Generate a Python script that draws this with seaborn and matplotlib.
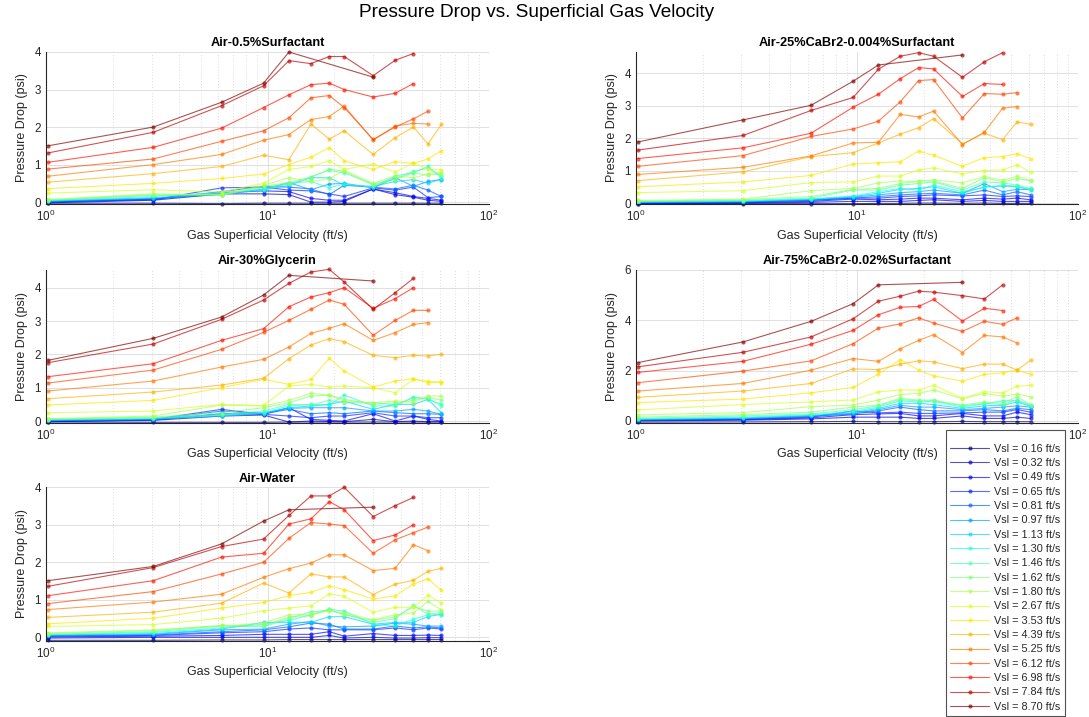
import numpy as np
import pandas as pd
import matplotlib
matplotlib.use("Agg")
import matplotlib.pyplot as plt
import seaborn as sns
from matplotlib.lines import Line2D
from matplotlib.ticker import LogLocator, NullFormatter

nan = np.nan

# ---------------- data ----------------
vsg = [1.02, 3.05, 6.2, 9.6, 12.5, 15.7, 19.0, 22.2, 30.0, 37.7, 45.6, 53.0, 61.0]
vsl = [0.16, 0.32, 0.49, 0.65, 0.81, 0.97, 1.13, 1.30, 1.46, 1.62, 1.80,
       2.67, 3.53, 4.39, 5.25, 6.12, 6.98, 7.84, 8.70]
titles = ["Air-0.5%Surfactant", "Air-25%CaBr2-0.004%Surfactant", "Air-30%Glycerin",
          "Air-75%CaBr2-0.02%Surfactant", "Air-Water"]

# each list: one row per Vsl (0.16 ... 8.70), 13 gas-velocity points
dp_surf05 = [
    [-0.03, -0.03, -0.04, -0.03, -0.03, -0.03, -0.03, -0.03, -0.03, -0.03, -0.03, -0.03, -0.03],
    [-0.02, 0.05, 0.22, 0.22, 0.20, 0.00, 0.00, 0.02, 0.35, 0.20, 0.13, 0.05, 0.02],
    [0.00, 0.08, 0.25, 0.30, 0.28, 0.10, 0.05, 0.05, 0.35, 0.25, 0.15, 0.10, 0.05],
    [0.01, 0.06, 0.38, 0.40, 0.32, 0.30, 0.22, 0.15, 0.38, 0.32, 0.40, 0.12, 0.15],
    [0.02, 0.08, 0.28, 0.42, 0.40, 0.35, 0.20, 0.45, 0.40, 0.35, 0.45, 0.32, 0.15],
    [0.02, 0.10, 0.20, 0.35, 0.52, 0.33, 0.48, 0.50, 0.38, 0.65, 0.42, 0.55, 0.60],
    [0.03, 0.12, 0.22, 0.32, 0.45, 0.65, 0.65, 0.45, 0.42, 0.55, 0.60, 0.50, 0.62],
    [0.04, 0.15, 0.25, 0.33, 0.50, 0.55, 0.38, 0.48, 0.40, 0.70, 0.78, 0.95, 0.65],
    [0.05, 0.18, 0.22, 0.38, 0.48, 0.68, 0.85, 0.78, 0.48, 0.62, 0.82, 0.90, 0.70],
    [0.06, 0.20, 0.18, 0.42, 0.52, 0.65, 0.88, 0.82, 0.45, 0.60, 0.78, 0.72, 0.75],
    [0.07, 0.22, 0.20, 0.45, 0.65, 0.55, 0.62, 0.85, 0.50, 0.70, 0.65, 0.75, 0.80],
    [0.24, 0.33, 0.27, 0.50, 0.87, 0.95, 1.10, 0.87, 1.02, 0.80, 1.05, 0.88, 0.86],
    [0.36, 0.50, 0.63, 0.75, 1.00, 1.20, 1.45, 1.10, 0.87, 1.08, 1.03, 1.15, 1.37],
    [0.53, 0.76, 0.95, 1.25, 1.13, 2.08, 1.68, 1.90, 1.27, 1.72, 2.00, 1.55, 2.07],
    [0.69, 1.00, 1.27, 1.65, 1.80, 2.20, 2.28, 2.56, 1.65, 2.03, 2.10, 2.08, nan],
    [0.88, 1.15, 1.62, 1.90, 2.25, 2.78, 2.84, 2.52, 1.67, 2.00, 2.22, 2.42, nan],
    [1.06, 1.46, 1.97, 2.52, 2.86, 3.13, 3.17, 3.00, 2.80, 2.90, 3.16, nan, nan],
    [1.31, 1.86, 2.57, 3.10, 3.77, 3.69, 3.88, 3.88, 3.37, 3.78, 3.96, nan, nan],
    [1.50, 2.00, 2.66, 3.17, 4.00, nan, nan, nan, 3.33, nan, nan, nan, nan],
]
dp_cabr25 = [
    [-0.03, -0.02, -0.02, -0.02, -0.01, -0.01, 0.00, 0.00, -0.01, 0.00, -0.01, -0.01, -0.01],
    [-0.02, 0.00, 0.02, 0.05, 0.05, 0.05, 0.08, 0.10, 0.05, 0.08, 0.05, 0.05, 0.05],
    [-0.01, 0.01, 0.05, 0.12, 0.10, 0.12, 0.15, 0.15, 0.10, 0.15, 0.12, 0.15, 0.10],
    [0.00, 0.02, 0.08, 0.15, 0.15, 0.20, 0.22, 0.25, 0.22, 0.25, 0.20, 0.22, 0.20],
    [0.01, 0.03, 0.10, 0.15, 0.20, 0.25, 0.28, 0.30, 0.25, 0.40, 0.25, 0.35, 0.25],
    [0.02, 0.04, 0.10, 0.18, 0.25, 0.32, 0.35, 0.40, 0.30, 0.60, 0.35, 0.42, 0.42],
    [0.03, 0.05, 0.12, 0.20, 0.30, 0.42, 0.45, 0.50, 0.30, 0.50, 0.52, 0.50, 0.40],
    [0.04, 0.07, 0.12, 0.22, 0.35, 0.45, 0.40, 0.55, 0.35, 0.48, 0.55, 0.52, 0.42],
    [0.05, 0.08, 0.15, 0.40, 0.40, 0.55, 0.60, 0.65, 0.40, 0.65, 0.62, 0.55, 0.45],
    [0.06, 0.10, 0.20, 0.42, 0.45, 0.60, 0.68, 0.68, 0.45, 0.78, 0.65, 0.75, 0.68],
    [0.08, 0.12, 0.38, 0.45, 0.62, 0.68, 0.65, 0.72, 0.62, 0.82, 0.70, 0.82, 0.70],
    [0.32, 0.38, 0.63, 0.65, 0.83, 0.83, 1.02, 1.08, 0.90, 1.00, 1.02, 1.18, 0.95],
    [0.50, 0.65, 0.85, 1.20, 1.24, 1.27, 1.60, 1.47, 1.13, 1.40, 1.43, 1.52, 1.36],
    [0.69, 0.96, 1.43, 1.55, 1.85, 2.12, 2.32, 2.60, 1.82, 2.15, 1.95, 2.50, 2.42],
    [0.88, 1.10, 1.45, 1.85, 1.87, 2.73, 2.65, 2.83, 1.80, 2.18, 2.92, 2.97, nan],
    [1.13, 1.46, 2.05, 2.28, 2.52, 3.12, 3.77, 3.80, 2.62, 3.37, 3.35, 3.40, nan],
    [1.37, 1.70, 2.15, 2.95, 3.35, 3.83, 4.17, 4.13, 3.28, 3.68, 3.65, nan, nan],
    [1.63, 2.08, 2.85, 3.25, 4.12, 4.52, 4.63, 4.52, 3.87, 4.35, 4.63, nan, nan],
    [1.88, 2.56, 3.01, 3.75, 4.25, nan, nan, nan, 4.56, nan, nan, nan, nan],
]
dp_glyc30 = [
    [-0.03, -0.04, -0.04, -0.04, -0.03, -0.03, -0.03, -0.03, -0.03, -0.03, -0.03, -0.03, -0.03],
    [-0.02, 0.02, 0.15, 0.18, -0.03, 0.00, -0.01, -0.02, 0.05, -0.02, 0.00, -0.02, -0.02],
    [-0.01, 0.03, 0.22, 0.20, 0.40, 0.05, 0.02, 0.00, 0.22, 0.00, 0.15, 0.05, 0.00],
    [0.00, 0.05, 0.35, 0.20, 0.15, 0.10, 0.15, 0.15, 0.25, 0.15, 0.15, 0.10, 0.10],
    [0.01, 0.04, 0.30, 0.22, 0.35, 0.22, 0.25, 0.22, 0.30, 0.25, 0.22, 0.22, 0.20],
    [0.02, 0.05, 0.20, 0.25, 0.38, 0.40, 0.40, 0.40, 0.30, 0.30, 0.35, 0.30, 0.20],
    [0.03, 0.06, 0.15, 0.22, 0.40, 0.45, 0.50, 0.60, 0.35, 0.50, 0.50, 0.65, 0.25],
    [0.04, 0.08, 0.18, 0.25, 0.45, 0.50, 0.48, 0.78, 0.45, 0.45, 0.72, 0.65, 0.50],
    [0.05, 0.10, 0.20, 0.30, 0.50, 0.48, 0.62, 0.55, 0.55, 0.48, 0.70, 0.68, 0.45],
    [0.06, 0.12, 0.25, 0.40, 0.55, 0.75, 0.78, 0.65, 0.50, 0.55, 0.62, 0.72, 0.62],
    [0.07, 0.15, 0.48, 0.45, 0.62, 0.83, 0.78, 0.60, 0.55, 0.60, 0.55, 0.75, 0.75],
    [0.25, 0.30, 0.50, 0.47, 1.05, 1.10, 1.02, 1.05, 1.00, 0.85, 1.25, 1.20, 1.15],
    [0.48, 0.62, 1.00, 1.25, 1.10, 1.25, 1.88, 1.50, 1.02, 1.20, 1.27, 1.15, 1.18],
    [0.67, 0.87, 1.08, 1.28, 1.87, 2.28, 2.47, 2.38, 1.97, 1.90, 1.97, 1.95, 2.00],
    [0.90, 1.20, 1.62, 1.85, 2.22, 2.63, 2.78, 2.92, 2.42, 2.65, 2.90, 2.95, nan],
    [1.14, 1.53, 2.15, 2.66, 3.02, 3.35, 3.63, 3.50, 2.57, 3.02, 3.32, 3.32, nan],
    [1.33, 1.72, 2.42, 2.77, 3.43, 3.72, 3.85, 4.00, 3.38, 3.67, 4.00, nan, nan],
    [1.75, 2.31, 3.05, 3.63, 4.13, 4.47, 4.55, 4.17, 3.35, 3.85, 4.28, nan, nan],
    [1.82, 2.48, 3.12, 3.78, 4.37, nan, nan, nan, 4.20, nan, nan, nan, nan],
]
dp_cabr75 = [
    [-0.05, -0.04, -0.03, -0.02, -0.03, -0.03, -0.03, -0.03, -0.02, -0.03, -0.03, -0.03, -0.03],
    [0.00, 0.03, 0.08, 0.15, 0.15, 0.15, 0.10, 0.10, 0.20, 0.10, 0.10, 0.15, 0.10],
    [0.02, 0.05, 0.12, 0.25, 0.28, 0.30, 0.20, 0.20, 0.30, 0.20, 0.20, 0.35, 0.25],
    [0.03, 0.06, 0.15, 0.40, 0.32, 0.35, 0.30, 0.30, 0.32, 0.35, 0.35, 0.45, 0.35],
    [0.04, 0.08, 0.18, 0.28, 0.40, 0.55, 0.45, 0.40, 0.40, 0.45, 0.40, 0.50, 0.45],
    [0.05, 0.10, 0.20, 0.30, 0.45, 0.62, 0.55, 0.55, 0.45, 0.50, 0.55, 0.60, 0.55],
    [0.06, 0.12, 0.22, 0.33, 0.50, 0.70, 0.70, 0.65, 0.50, 0.60, 0.62, 0.75, 0.58],
    [0.08, 0.15, 0.25, 0.38, 0.55, 0.80, 0.75, 0.78, 0.55, 0.68, 0.80, 0.80, 0.60],
    [0.10, 0.20, 0.28, 0.45, 0.60, 0.85, 0.80, 0.80, 0.60, 0.70, 0.65, 0.85, 0.63],
    [0.15, 0.25, 0.35, 0.55, 0.63, 0.90, 0.83, 0.83, 0.63, 0.75, 0.70, 0.96, 0.65],
    [0.24, 0.33, 0.57, 0.63, 0.83, 1.05, 1.09, 1.23, 0.88, 1.09, 0.98, 1.07, 0.96],
    [0.44, 0.65, 0.76, 0.83, 1.16, 1.23, 1.23, 1.42, 0.90, 1.16, 1.12, 1.38, 1.42],
    [0.73, 0.87, 1.12, 1.33, 1.86, 2.44, 2.02, 1.79, 1.58, 1.85, 1.91, 2.02, 1.85],
    [0.94, 1.19, 1.49, 2.07, 2.04, 2.26, 2.39, 2.35, 2.08, 2.26, 2.26, 2.02, 2.41],
    [1.19, 1.49, 2.02, 2.48, 2.37, 2.87, 3.20, 3.43, 2.72, 3.40, 3.34, 3.10, nan],
    [1.52, 1.98, 2.39, 3.07, 3.69, 3.86, 4.10, 3.89, 3.56, 3.96, 3.84, 4.10, nan],
    [1.93, 2.37, 3.05, 3.60, 4.22, 4.52, 4.55, 4.83, 3.97, 4.48, 4.39, nan, nan],
    [2.15, 2.73, 3.34, 4.06, 4.76, 4.96, 5.16, 5.12, 4.98, 4.85, 5.41, nan, nan],
    [2.32, 3.14, 3.96, 4.66, 5.41, nan, nan, nan, 5.51, nan, nan, nan, nan],
]
dp_water = [
    [-0.08, -0.08, -0.07, -0.07, -0.06, -0.06, -0.06, -0.06, -0.06, -0.06, -0.06, -0.06, -0.06],
    [-0.02, 0.00, 0.00, 0.00, 0.00, 0.00, 0.05, -0.02, 0.00, -0.02, -0.02, -0.01, -0.01],
    [0.01, 0.03, 0.05, 0.08, 0.08, 0.08, 0.15, 0.03, 0.10, 0.05, 0.05, 0.06, 0.05],
    [0.03, 0.05, 0.12, 0.15, 0.22, 0.25, 0.20, 0.20, 0.20, 0.25, 0.20, 0.25, 0.22],
    [0.04, 0.06, 0.15, 0.20, 0.28, 0.38, 0.35, 0.22, 0.22, 0.30, 0.25, 0.28, 0.25],
    [0.05, 0.08, 0.20, 0.22, 0.35, 0.42, 0.30, 0.28, 0.30, 0.38, 0.35, 0.30, 0.30],
    [0.06, 0.10, 0.22, 0.40, 0.40, 0.40, 0.55, 0.55, 0.35, 0.40, 0.40, 0.55, 0.62],
    [0.07, 0.13, 0.25, 0.35, 0.45, 0.60, 0.75, 0.70, 0.35, 0.30, 0.48, 0.60, 0.60],
    [0.08, 0.15, 0.30, 0.28, 0.50, 0.68, 0.72, 0.62, 0.40, 0.50, 0.85, 0.62, 0.65],
    [0.10, 0.18, 0.32, 0.30, 0.55, 0.58, 0.75, 0.60, 0.45, 0.55, 0.82, 0.70, 0.70],
    [0.12, 0.20, 0.30, 0.38, 0.60, 0.62, 0.70, 0.65, 0.47, 0.60, 0.65, 0.96, 0.73],
    [0.29, 0.34, 0.51, 0.71, 0.78, 0.84, 1.16, 1.09, 0.67, 0.80, 0.80, 1.12, 0.91],
    [0.36, 0.51, 0.78, 0.93, 1.11, 1.20, 1.37, 1.27, 1.02, 1.11, 1.42, 1.56, 1.25],
    [0.53, 0.67, 0.91, 1.45, 1.18, 1.69, 1.61, 1.61, 1.14, 1.42, 1.52, 1.76, 1.84],
    [0.74, 0.94, 1.15, 1.60, 1.83, 1.98, 2.20, 2.20, 1.78, 1.84, 2.47, 2.31, nan],
    [0.90, 1.22, 1.69, 2.00, 2.64, 3.06, 3.02, 2.98, 2.24, 2.60, 2.79, 2.94, nan],
    [1.11, 1.51, 2.14, 2.24, 3.02, 3.16, 3.62, 3.40, 2.58, 2.73, 3.00, nan, nan],
    [1.36, 1.86, 2.42, 2.62, 3.25, 3.77, 3.77, 4.00, 3.22, 3.51, 3.73, nan, nan],
    [1.51, 1.89, 2.49, 3.10, 3.40, nan, nan, nan, 3.47, nan, nan, nan, nan],
]
panels = [dp_surf05, dp_cabr25, dp_glyc30, dp_cabr75, dp_water]

# ---------------- style ----------------
sns.set_style("white")
plt.rcParams['font.family'] = ['Liberation Sans', 'DejaVu Sans']
plt.rcParams['mathtext.fontset'] = 'custom'
plt.rcParams['mathtext.rm'] = 'Liberation Sans'
plt.rcParams['mathtext.it'] = 'Liberation Sans:italic'
dark = (0.15, 0.15, 0.15)

labels = ["Vsl = %.2f ft/s" % v for v in vsl]
colors = [plt.get_cmap('jet')(t) for t in np.linspace(0, 1, len(vsl))]
ALPHA = 0.68
LW = 0.8
MS = 3.0

fig = plt.figure(figsize=(10.89, 7.17), dpi=100)

W, H = 1089.0, 717.0
col_x = [46, 636]
col_w = [443, 442]
rows = [(52, 204), (270, 422.7), (487.3, 640.7)]
slots = [(0, 0), (0, 1), (1, 0), (1, 1), (2, 0)]
ylims = [(-0.05, 4.0), (-0.03, 4.65), (-0.05, 4.53), (-0.07, 6.0), (-0.09, 4.0)]
yticks = [[0, 1, 2, 3, 4], [0, 1, 2, 3, 4], [0, 1, 2, 3, 4], [0, 2, 4, 6], [0, 1, 2, 3, 4]]

for k, (data, title) in enumerate(zip(panels, titles)):
    r, c = slots[k]
    top, bot = rows[r]
    ax = fig.add_axes([col_x[c] / W, 1 - bot / H, col_w[c] / W, (bot - top) / H])
    recs = []
    for i, lab in enumerate(labels):
        for x, y in zip(vsg, data[i]):
            if not np.isnan(y):
                recs.append({"Vsg": x, "dp": y, "Vsl": lab})
    df = pd.DataFrame(recs)
    sns.lineplot(data=df, x="Vsg", y="dp", hue="Vsl", hue_order=labels, palette=colors,
                 estimator=None, sort=True, marker="o", markersize=MS, markeredgewidth=0,
                 linewidth=LW, alpha=ALPHA, legend=False, ax=ax, clip_on=False)
    ax.set_xscale("log")
    ax.set_xlim(1, 100)
    ax.set_ylim(*ylims[k])
    ax.set_yticks(yticks[k])
    ax.xaxis.set_minor_locator(LogLocator(base=10, subs=np.arange(2, 10)))
    ax.xaxis.set_minor_formatter(NullFormatter())
    ax.grid(True, which="major", color=(0.86, 0.86, 0.86), linewidth=0.6)
    ax.grid(True, which="minor", axis="x", color=(0.82, 0.82, 0.82), linewidth=0.6,
            linestyle=(0, (1, 2.5)))
    ax.set_axisbelow(True)
    for s in ["top", "right"]:
        ax.spines[s].set_visible(False)
    for s in ["left", "bottom"]:
        ax.spines[s].set_color(dark)
        ax.spines[s].set_linewidth(0.8)
    ax.tick_params(axis="both", which="both", direction="in", colors=dark, labelsize=8.4,
                   labelcolor=dark)
    ax.tick_params(axis="both", which="major", length=3.5, width=0.6)
    ax.tick_params(axis="x", which="minor", length=2, width=0.5)
    ax.set_title(title, fontsize=9.2, fontweight="bold", color="black", pad=4)
    ax.set_xlabel("Gas Superficial Velocity (ft/s)", fontsize=9, color=dark, labelpad=4)
    ax.set_ylabel("Pressure Drop (psi)", fontsize=9, color=dark, labelpad=5)

fig.suptitle("Pressure Drop vs. Superficial Gas Velocity", x=536.5 / W, y=1 - 4 / H,
             fontsize=13.7, va="top", color="black")

handles = [Line2D([0], [0], color=col, lw=LW, alpha=ALPHA, marker="o", markersize=MS,
                  markeredgewidth=0) for col in colors]
leg = fig.legend(handles, labels, loc="upper left", bbox_to_anchor=(946 / W, 1 - 430 / H),
                 borderaxespad=0, fontsize=7.8, frameon=True, fancybox=False,
                 handlelength=3.6, handletextpad=0.4, labelspacing=0.40, borderpad=0.4,
                 title=" ", title_fontsize=4)
leg.get_frame().set_edgecolor(dark)
leg.get_frame().set_linewidth(0.8)

fig.savefig("out.png", dpi=100)
